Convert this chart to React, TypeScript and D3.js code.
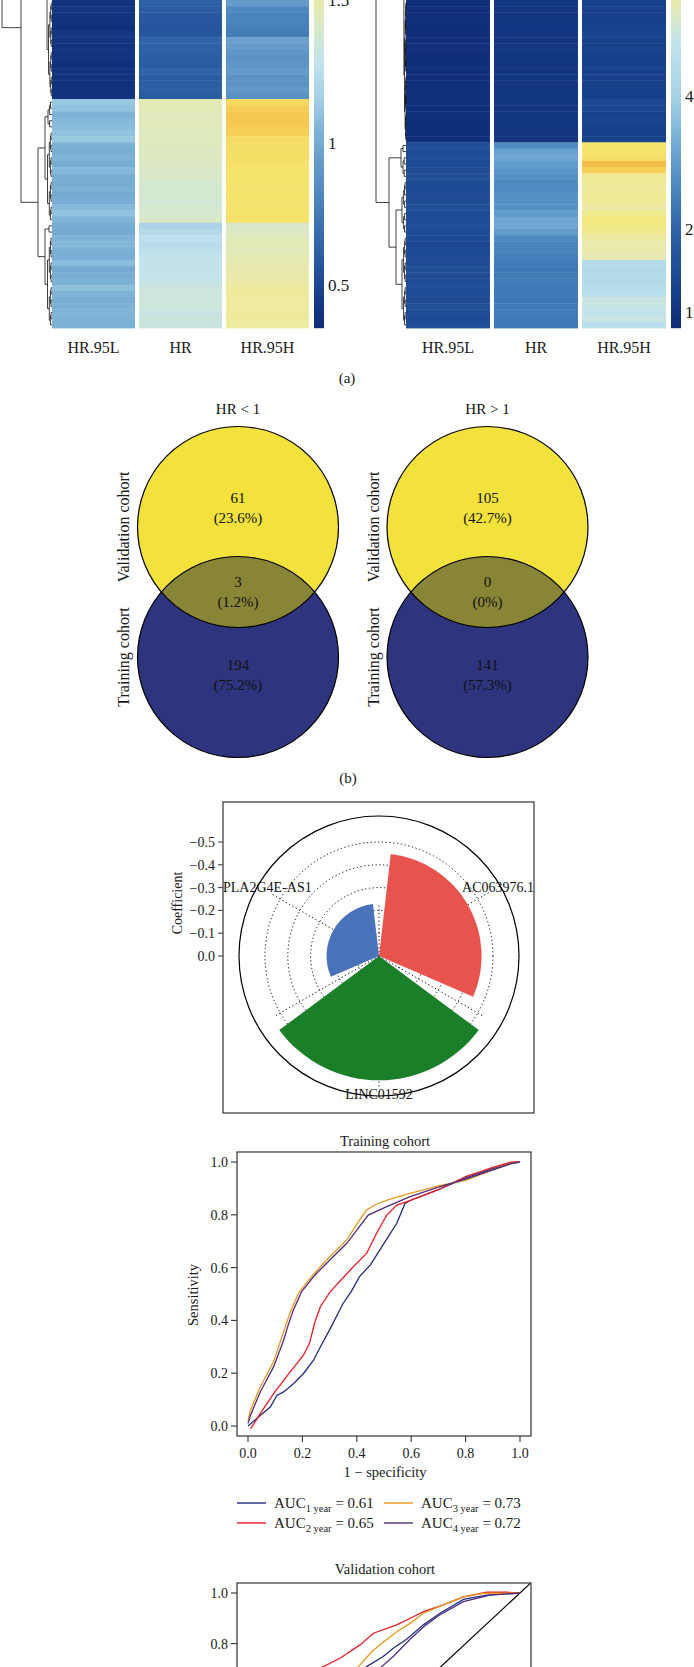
import React from "react";
import * as d3 from "d3";

const FONT = "'Liberation Serif','Times New Roman',serif";

// ---------------- (a) heatmaps ----------------
const heatCols = ["HR.95L", "HR", "HR.95H"];

const leftL95 = [
  0.40, 0.41, 0.40, 0.39, 0.38, 0.42, 0.40, 0.39, 0.40, 0.41, 0.38, 0.40, 0.39, 0.38, 0.40, 0.39,
  1.12, 1.10, 1.04, 1.06, 1.08, 1.10, 1.12, 1.03, 1.02, 1.04, 1.01, 1.06, 1.02, 1.01, 1.03, 1.00, 1.02, 1.07, 1.10, 1.05,
  1.02, 1.00, 1.04, 1.06, 1.03, 1.02, 1.08, 1.00, 1.01, 1.03, 1.09, 1.04, 1.02, 1.03, 1.05, 1.04, 1.03,
];
const leftHR = [
  0.62, 0.60, 0.58, 0.58, 0.57, 0.58, 0.64, 0.62, 0.62, 0.61, 0.60, 0.63, 0.60, 0.61, 0.62, 0.60,
  1.47, 1.46, 1.44, 1.45, 1.44, 1.43, 1.44, 1.43, 1.42, 1.43, 1.42, 1.41, 1.40, 1.38, 1.38, 1.38, 1.37, 1.38, 1.39, 1.40,
  1.18, 1.22, 1.26, 1.24, 1.25, 1.28, 1.29, 1.28, 1.28, 1.30, 1.33, 1.34, 1.33, 1.34, 1.31, 1.33, 1.32,
];
const leftH95 = [
  0.93, 0.82, 0.80, 0.80, 0.78, 0.76, 0.96, 0.93, 0.90, 0.88, 0.90, 0.92, 0.88, 0.89, 0.91, 0.88,
  1.80, 1.86, 1.90, 1.90, 1.88, 1.86, 1.78, 1.76, 1.76, 1.75, 1.74, 1.72, 1.73, 1.72, 1.71, 1.72, 1.71, 1.72, 1.73, 1.72,
  1.40, 1.42, 1.45, 1.46, 1.45, 1.47, 1.48, 1.50, 1.50, 1.52, 1.55, 1.56, 1.55, 1.55, 1.56, 1.55, 1.54,
];

const rightL95 = [
  0.90, 0.88, 0.90, 0.92, 0.90, 0.88, 0.90, 0.91, 0.89, 0.90, 0.92, 0.90, 0.88, 0.90, 0.91, 0.90, 0.89, 0.90, 0.92, 0.90, 0.88, 0.90, 0.90,
  1.55, 1.50, 1.55, 1.45, 1.50, 1.55, 1.50, 1.45, 1.50, 1.50, 1.55, 1.45, 1.50, 1.55, 1.50, 1.45, 1.35, 1.45, 1.50, 1.50, 1.55, 1.50, 1.50, 1.55, 1.50, 1.50, 1.55, 1.50, 1.45, 1.55,
];
const rightHR = [
  1.08, 1.05, 1.04, 1.05, 1.06, 1.05, 1.04, 1.05, 1.06, 1.05, 1.04, 1.06, 1.05, 1.04, 1.05, 1.06, 1.05, 1.04, 1.05, 1.06, 1.05, 1.04, 1.05,
  2.7, 3.1, 3.2, 3.0, 2.9, 2.8, 2.7, 2.7, 2.8, 2.8, 2.8, 3.0, 3.2, 3.2, 3.0, 2.7, 2.6, 2.6, 2.5, 2.4, 2.35, 2.4, 2.45, 2.4, 2.4, 2.35, 2.4, 2.45, 2.4, 2.4,
];
const rightH95 = [
  1.28, 1.25, 1.24, 1.26, 1.25, 1.35, 1.27, 1.25, 1.24, 1.26, 1.25, 1.24, 1.26, 1.25, 1.27, 1.25, 1.40, 1.38, 1.25, 1.35, 1.26, 1.25, 1.27,
  7.0, 7.0, 7.2, 8.6, 8.0, 6.3, 6.3, 6.2, 6.3, 6.2, 5.9, 6.4, 6.7, 6.6, 6.4, 6.0, 5.5, 5.5, 5.4, 4.4, 4.3, 4.4, 4.4, 4.5, 4.6, 4.9, 4.9, 4.8, 4.9, 4.6,
];

const leftBarTicks = [1.5, 1, 0.5];
const rightBarTicks = [4, 2, 1];

// colour ramps (value stops -> colours)
const leftStops = [0.35, 0.45, 0.6, 0.8, 0.95, 1.05, 1.15, 1.27, 1.38, 1.47, 1.55, 1.72, 1.9];
const leftStopColors = ["#0E2B75", "#163C88", "#2A5CA2", "#4A84BE", "#6A9FCC", "#80B5D8", "#A2CEE4", "#C0E2EE", "#D4E8D0", "#E4E9B2", "#EEEA9E", "#F5E46C", "#F5C84F"];
const rightStops = [0.81, 1.0, 1.35, 2.0, 2.7, 3.45, 4.0, 4.8, 5.1, 5.45, 6.2, 7.0, 8.0, 8.6];
const rightStopColors = ["#0F2B76", "#12337F", "#1A4590", "#2E63A7", "#4F8BC2", "#7EB5D9", "#A6D3E6", "#C2E3EC", "#D4E7D0", "#E7EBAC", "#EFEA9C", "#F5E56C", "#F5D058", "#F4BD47"];

// dendrogram merge structures (heights relative to root)
type TSpec = { leaf: number } | { range: [number, number]; h: number } | { h: number; c: TSpec[] };
const leftTree: TSpec = {
  h: 1,
  c: [
    { leaf: -120 },
    {
      h: 0.62,
      c: [
        { h: 0.1, c: [{ leaf: -56 }, { range: [0, 15], h: 0.07 }] },
        {
          h: 0.28,
          c: [
            { h: 0.14, c: [{ range: [16, 20], h: 0.08 }, { range: [21, 35], h: 0.09 }] },
            { h: 0.14, c: [{ range: [36, 37], h: 0.06 }, { range: [38, 52], h: 0.09 }] },
          ],
        },
      ],
    },
  ],
};
const rightTree: TSpec = {
  h: 1,
  c: [
    { h: 0.07, c: [{ leaf: -40 }, { range: [0, 22], h: 0.05 }] },
    {
      h: 0.567,
      c: [
        { h: 0.167, c: [{ range: [23, 24], h: 0.1 }, { range: [25, 28], h: 0.1 }] },
        { h: 0.333, c: [{ range: [29, 37], h: 0.133 }, { range: [38, 52], h: 0.133 }] },
      ],
    },
  ],
};

// ---------------- (b) Venn ----------------
const vennGroups = ["HR < 1", "HR > 1"];
const vennValidationOnly = [61, 105];
const vennOverlap = [3, 0];
const vennTrainingOnly = [194, 141];

// ---------------- polar coefficient chart ----------------
const coefGenes = ["AC063976.1", "LINC01592", "PLA2G4E-AS1"];
const coefValues = [0.45, 0.545, 0.23];
const coefColors = ["#E9534E", "#1B7F2A", "#4A72B8"];
const coefTicks = [0, 0.1, 0.2, 0.3, 0.4, 0.5];
const gridAngles = [0, 60, 120, 180, 240, 300];
const gridLengths = [0.23, 0.57, 0.53, 0.58, 0.53, 0.55];

// ---------------- ROC ----------------
const rocTicks = [0, 0.2, 0.4, 0.6, 0.8, 1.0];
const rocYears = [1, 2, 3, 4];
const rocColors = ["#222C80", "#EC1C24", "#E69A1C", "#4F2D7F"];
const trainAUC = [0.61, 0.65, 0.73, 0.72];
const trainY1 = [[0, 0], [0.045, 0.04], [0.082, 0.072], [0.106, 0.116], [0.131, 0.129], [0.168, 0.161], [0.204, 0.199], [0.241, 0.249], [0.26, 0.288], [0.30, 0.364], [0.35, 0.465], [0.38, 0.51], [0.41, 0.566], [0.45, 0.61], [0.50, 0.692], [0.547, 0.768], [0.577, 0.843], [0.6, 0.856], [0.7, 0.895], [0.8, 0.94], [0.9, 0.975], [0.97, 0.995], [1, 1]];
const trainY2 = [[0.01, -0.01], [0.045, 0.047], [0.094, 0.123], [0.155, 0.205], [0.204, 0.268], [0.226, 0.313], [0.245, 0.39], [0.266, 0.452], [0.3, 0.505], [0.33, 0.54], [0.387, 0.603], [0.436, 0.654], [0.473, 0.73], [0.51, 0.799], [0.547, 0.837], [0.6, 0.856], [0.7, 0.895], [0.8, 0.945], [0.9, 0.98], [0.97, 1], [1, 1]];
const trainY3 = [[0, 0.02], [0.009, 0.06], [0.045, 0.148], [0.094, 0.243], [0.137, 0.376], [0.154, 0.427], [0.185, 0.503], [0.228, 0.56], [0.289, 0.629], [0.363, 0.705], [0.406, 0.774], [0.436, 0.818], [0.473, 0.841], [0.522, 0.859], [0.596, 0.881], [0.7, 0.91], [0.8, 0.93], [0.9, 0.97], [0.97, 0.995], [1, 1]];
const trainY4 = [[0, 0.01], [0.009, 0.04], [0.045, 0.129], [0.094, 0.224], [0.131, 0.325], [0.148, 0.383], [0.167, 0.439], [0.197, 0.509], [0.246, 0.572], [0.301, 0.629], [0.363, 0.692], [0.40, 0.742], [0.442, 0.799], [0.51, 0.831], [0.596, 0.869], [0.7, 0.905], [0.8, 0.935], [0.9, 0.97], [0.97, 0.995], [1, 1]];
const validY1 = [[0.39, 0.68], [0.436, 0.709], [0.497, 0.749], [0.534, 0.782], [0.583, 0.817], [0.645, 0.874], [0.706, 0.92], [0.792, 0.975], [0.877, 0.992], [1, 1]];
const validY2 = [[0.22, 0.68], [0.277, 0.709], [0.338, 0.742], [0.412, 0.795], [0.461, 0.841], [0.547, 0.874], [0.608, 0.906], [0.645, 0.926], [0.718, 0.953], [0.792, 0.985], [0.877, 1.003], [0.951, 1.003], [1, 1]];
const validY3 = [[0.38, 0.68], [0.406, 0.709], [0.455, 0.768], [0.491, 0.8], [0.547, 0.847], [0.596, 0.88], [0.645, 0.92], [0.718, 0.953], [0.792, 0.985], [0.865, 0.999], [1, 1]];
const validY4 = [[0.46, 0.68], [0.491, 0.709], [0.534, 0.749], [0.596, 0.817], [0.645, 0.866], [0.70, 0.91], [0.792, 0.966], [0.89, 0.992], [1, 1]];
const trainCurves = [trainY1, trainY2, trainY3, trainY4];
const validCurves = [validY1, validY2, validY3, validY4];

const PAGE_H = 1667;

// ---------------- helpers ----------------
type TNode = { h: number; y: number; children?: TNode[] };
function buildRange(a: number, b: number, h: number, rc: (i: number) => number): TNode {
  if (a === b) return { h: 0, y: rc(a) };
  const m = Math.floor((a + b) / 2);
  const c = [buildRange(a, m, h * 0.6, rc), buildRange(m + 1, b, h * 0.6, rc)];
  return { h, y: (c[0].y + c[1].y) / 2, children: c };
}
function buildTree(s: any, rc: (i: number) => number): TNode {
  if ("leaf" in s) return { h: 0, y: rc(s.leaf) };
  if ("range" in s) return buildRange(s.range[0], s.range[1], s.h, rc);
  const c = s.c.map((x: any) => buildTree(x, rc));
  return { h: s.h, y: (c[0].y + c[c.length - 1].y) / 2, children: c };
}
function treePath(n: TNode, xs: (h: number) => number): string {
  if (!n.children) return "";
  const x = xs(n.h);
  let d = `M${x},${n.children[0].y}V${n.children[n.children.length - 1].y}`;
  for (const c of n.children) {
    d += `M${x},${c.y}H${xs(c.h)}` + treePath(c, xs);
  }
  return d;
}
let measureCtx: CanvasRenderingContext2D | null = null;
function textWidth(s: string, size: number): number {
  if (!measureCtx) {
    const cv = document.createElement("canvas");
    measureCtx = cv.getContext("2d");
  }
  if (!measureCtx) return s.length * size * 0.55;
  measureCtx.font = `${size}px ${FONT}`;
  return measureCtx.measureText(s).width;
}

function Heatmap(props: {
  cols: number[][];
  x0: number; x1: number; treeX0: number; treeX1: number;
  barX: number; stops: number[]; colors: string[];
  barScale: d3.ScaleLinear<number, number>; ticks: number[]; tree: TSpec;
}) {
  const { cols, x0, x1, treeX0, treeX1, barX, stops, colors, barScale, ticks, tree } = props;
  const nRows = cols[0].length;
  const rowY = d3.scaleLinear().domain([0, nRows]).range([0, 328]);
  const xb = d3.scaleBand<string>().domain(heatCols).range([x0, x1]).paddingInner(0.046);
  const color = d3.scaleLinear<string>().domain(stops).range(colors).interpolate(d3.interpolateRgb).clamp(true);
  const root = buildTree(tree, (i) => rowY(i + 0.5));
  const xs = d3.scaleLinear().domain([0, 1]).range([treeX0, treeX1]);
  const barPx = d3.range(0, 328);
  return (
    <g>
      {heatCols.map((c, ci) =>
        cols[ci].map((v, i) => (
          <rect key={c + i} x={xb(c)} y={rowY(i)} width={xb.bandwidth()} height={rowY(i + 1) - rowY(i) + 0.4} fill={color(v)} />
        ))
      )}
      <path d={treePath(root, xs)} fill="none" stroke="#111" strokeWidth={0.8} />
      {barPx.map((p) => (
        <rect key={"b" + p} x={barX} y={p} width={10} height={1.2} fill={color(barScale.invert(p + 0.5))} />
      ))}
      {ticks.map((t) => (
        <text key={"t" + t} x={barX + 14} y={barScale(t)} dy="0.35em" fontSize={17} fontFamily={FONT} fill="#1a1a1a">{t}</text>
      ))}
      {heatCols.map((c) => (
        <text key={"l" + c} x={(xb(c) as number) + xb.bandwidth() / 2} y={347} dy="0.35em" textAnchor="middle" fontSize={16} fontFamily={FONT} fill="#1a1a1a">{c}</text>
      ))}
    </g>
  );
}

function Venn(props: { cx: number; i: number; labelX: number }) {
  const { cx, i, labelX } = props;
  const cyTop = 527, cyBot = 657, r = 100.5;
  const ym = (cyTop + cyBot) / 2;
  const w = Math.sqrt(r * r - ((cyBot - cyTop) / 2) ** 2);
  const total = vennValidationOnly[i] + vennOverlap[i] + vennTrainingOnly[i];
  const pct = (v: number) => `(${d3.format(".1~f")((v / total) * 100)}%)`;
  const lens = `M${cx - w},${ym}A${r},${r} 0 0 1 ${cx + w},${ym}A${r},${r} 0 0 1 ${cx - w},${ym}Z`;
  const t = (x: number, y: number, s: string) => (
    <text x={x} y={y} dy="0.35em" textAnchor="middle" fontSize={15} fontFamily={FONT} fill="#111">{s}</text>
  );
  return (
    <g>
      <circle cx={cx} cy={cyTop} r={r} fill="#F2E23B" />
      <circle cx={cx} cy={cyBot} r={r} fill="#2E347D" />
      <path d={lens} fill="#898536" />
      <circle cx={cx} cy={cyTop} r={r} fill="none" stroke="#000" strokeWidth={1.2} />
      <circle cx={cx} cy={cyBot} r={r} fill="none" stroke="#000" strokeWidth={1.2} />
      {t(cx, 409, vennGroups[i])}
      {t(cx, 498, String(vennValidationOnly[i]))}
      {t(cx, 518, pct(vennValidationOnly[i]))}
      {t(cx, 582, String(vennOverlap[i]))}
      {t(cx, 602, pct(vennOverlap[i]))}
      {t(cx, 665, String(vennTrainingOnly[i]))}
      {t(cx, 685, pct(vennTrainingOnly[i]))}
      <text transform={`translate(${labelX},${cyTop}) rotate(-90)`} dy="0.35em" textAnchor="middle" fontSize={16} fontFamily={FONT} fill="#1a1a1a">Validation cohort</text>
      <text transform={`translate(${labelX},${cyBot}) rotate(-90)`} dy="0.35em" textAnchor="middle" fontSize={16} fontFamily={FONT} fill="#1a1a1a">Training cohort</text>
    </g>
  );
}

function Polar() {
  const cx = 379, cy = 956;
  const boxL = 223, boxR = 534;
  const r = d3.scaleLinear().domain([0, 0.5]).range([0, 114]);
  const a = d3.scaleBand<string>().domain(coefGenes).range([0, 2 * Math.PI]).paddingInner(0.11).paddingOuter(0.055);
  const arc = d3.arc<any>();
  return (
    <g>
      <rect x={boxL} y={802} width={boxR - boxL} height={311} fill="none" stroke="#333" strokeWidth={1.2} />
      <g transform={`translate(${cx},${cy})`}>
        <circle r={140} fill="none" stroke="#000" strokeWidth={1.2} />
        {coefTicks.filter((t) => t > 0).map((t) => (
          <circle key={t} r={r(t)} fill="none" stroke="#000" strokeWidth={1} strokeDasharray="1.2,2.6" />
        ))}
        {gridAngles.map((g, gi) => {
          const rad = (g * Math.PI) / 180;
          const L = r(gridLengths[gi]);
          return <line key={g} x1={0} y1={0} x2={L * Math.sin(rad)} y2={-L * Math.cos(rad)} stroke="#000" strokeWidth={1} strokeDasharray="1.2,2.6" />;
        })}
        {coefGenes.map((gname, i) => (
          <path key={gname} d={arc({ innerRadius: 0, outerRadius: r(coefValues[i]), startAngle: a(gname) as number, endAngle: (a(gname) as number) + a.bandwidth() }) as string} fill={coefColors[i]} />
        ))}
        {coefGenes.map((gname) => {
          const mid = (a(gname) as number) + a.bandwidth() / 2;
          const half = textWidth(gname, 14) / 2;
          let x = 138 * Math.sin(mid);
          x = Math.max(boxL - cx + half, Math.min(boxR - cx - half, x));
          return (
            <text key={"l" + gname} x={x} y={-138 * Math.cos(mid)} dy="0.35em" textAnchor="middle" fontSize={14} fontFamily={FONT} fill="#111">{gname}</text>
          );
        })}
      </g>
      {coefTicks.map((t) => (
        <g key={"ax" + t}>
          <line x1={218} x2={223} y1={cy - r(t)} y2={cy - r(t)} stroke="#333" />
          <text x={215} y={cy - r(t)} dy="0.35em" textAnchor="end" fontSize={14} fontFamily={FONT} fill="#1a1a1a">{t === 0 ? "0.0" : "\u2212" + d3.format(".1f")(t)}</text>
        </g>
      ))}
      <text transform="translate(177,903) rotate(-90)" dy="0.35em" textAnchor="middle" fontSize={14} fontFamily={FONT} fill="#1a1a1a">Coefficient</text>
    </g>
  );
}

function Roc(props: { title: string; titleY: number; boxTop: number; boxBottom: number; y1: number; y0: number; curves: number[][][]; diag: boolean; xAxis: boolean }) {
  const { title, titleY, boxTop, boxBottom, y1, y0, curves, diag, xAxis } = props;
  const xs = d3.scaleLinear().domain([0, 1]).range([248, 520]);
  const ys = d3.scaleLinear().domain([0, 1]).range([y0, y1]);
  const line = d3.line<number[]>().x((d) => xs(d[0])).y((d) => ys(d[1]));
  const clipId = "clip" + title.replace(/\s/g, "");
  const yTicks = rocTicks.filter((t) => ys(t) < PAGE_H - 8);
  return (
    <g>
      <defs>
        <clipPath id={clipId}><rect x={237} y={boxTop} width={294} height={boxBottom - boxTop} /></clipPath>
      </defs>
      <text x={385} y={titleY} dy="0.35em" textAnchor="middle" fontSize={14.5} fontFamily={FONT} fill="#1a1a1a">{title}</text>
      <g clipPath={`url(#${clipId})`}>
        {diag && <path d={line([[0, 0], [1.1, 1.1]]) as string} stroke="#000" strokeWidth={1.2} fill="none" />}
        {curves.map((c, i) => (
          <path key={i} d={line(c) as string} fill="none" stroke={rocColors[i]} strokeWidth={1.3} />
        ))}
      </g>
      <rect x={237} y={boxTop} width={294} height={boxBottom - boxTop} fill="none" stroke="#333" strokeWidth={1.2} />
      {yTicks.map((t) => (
        <g key={"y" + t}>
          <line x1={231} x2={237} y1={ys(t)} y2={ys(t)} stroke="#333" strokeWidth={1.1} />
          <text x={228} y={ys(t)} dy="0.35em" textAnchor="end" fontSize={14} fontFamily={FONT} fill="#1a1a1a">{d3.format(".1f")(t)}</text>
        </g>
      ))}
      {xAxis && rocTicks.map((t) => (
        <g key={"x" + t}>
          <line x1={xs(t)} x2={xs(t)} y1={boxBottom} y2={boxBottom + 6} stroke="#333" strokeWidth={1.1} />
          <text x={xs(t)} y={1453} dy="0.35em" textAnchor="middle" fontSize={14} fontFamily={FONT} fill="#1a1a1a">{d3.format(".1f")(t)}</text>
        </g>
      ))}
    </g>
  );
}

export default function App() {
  const leftBar = d3.scaleLinear().domain([0.35, 1.5]).range([328, 0]);
  const rightBar = d3.scaleLinear().domain([0.81, 1, 2, 4, 5.45]).range([328, 312, 229, 96, 0]);
  const legendPos = [[237, 1503], [237, 1523], [384, 1503], [384, 1523]];
  return (
    <svg width={694} height={PAGE_H} style={{ position: "absolute", left: 0, top: 0, background: "#fff" }}>
      <rect width={694} height={PAGE_H} fill="#fff" />
      <Heatmap cols={[leftL95, leftHR, leftH95]} x0={52} x1={309} treeX0={52} treeX1={2} barX={314}
        stops={leftStops} colors={leftStopColors} barScale={leftBar} ticks={leftBarTicks} tree={leftTree} />
      <Heatmap cols={[rightL95, rightHR, rightH95]} x0={406} x1={666} treeX0={406} treeX1={376} barX={671}
        stops={rightStops} colors={rightStopColors} barScale={rightBar} ticks={rightBarTicks} tree={rightTree} />
      <text x={347} y={378} dy="0.35em" textAnchor="middle" fontSize={15} fontFamily={FONT} fill="#1a1a1a">(a)</text>

      <Venn cx={238} i={0} labelX={123} />
      <Venn cx={487.5} i={1} labelX={373} />
      <text x={348} y={778} dy="0.35em" textAnchor="middle" fontSize={15} fontFamily={FONT} fill="#1a1a1a">(b)</text>

      <Polar />

      <Roc title="Training cohort" titleY={1141} boxTop={1152} boxBottom={1436} y1={1162} y0={1426} curves={trainCurves} diag={false} xAxis={true} />
      <text transform="translate(193,1295) rotate(-90)" dy="0.35em" textAnchor="middle" fontSize={14.5} fontFamily={FONT} fill="#1a1a1a">Sensitivity</text>
      <text x={385} y={1472} dy="0.35em" textAnchor="middle" fontSize={14.5} fontFamily={FONT} fill="#1a1a1a">1 − specificity</text>
      {rocYears.map((yr, i) => (
        <g key={"lg" + yr}>
          <line x1={legendPos[i][0]} x2={legendPos[i][0] + 29} y1={legendPos[i][1]} y2={legendPos[i][1]} stroke={rocColors[i]} strokeWidth={1.4} />
          <text x={legendPos[i][0] + 37} y={legendPos[i][1]} dy="0.35em" fontSize={15} fontFamily={FONT} fill="#1a1a1a">
            AUC<tspan fontSize={10.5} dy="4">{`${yr} year`}</tspan><tspan dy="-4">{` = ${d3.format(".2f")(trainAUC[i])}`}</tspan>
          </text>
        </g>
      ))}

      <Roc title="Validation cohort" titleY={1569} boxTop={1583} boxBottom={1870} y1={1593} y0={1846} curves={validCurves} diag={true} xAxis={false} />
    </svg>
  );
}
